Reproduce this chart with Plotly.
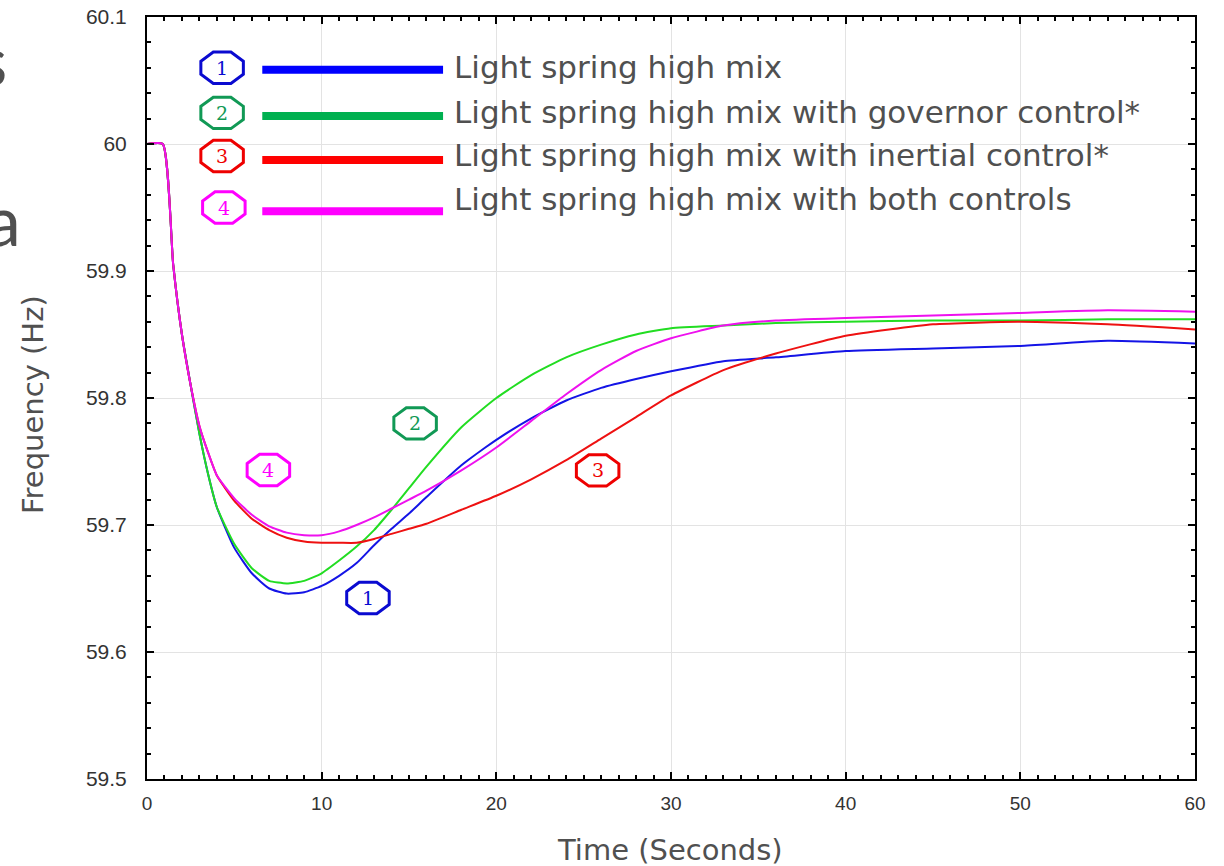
import plotly.graph_objects as go
import numpy as np

# ---------------- data ----------------
time_s = [0, 0.9, 1.5, 2, 2.5, 3, 3.5, 4, 5, 6, 7, 8, 9, 10, 11, 12, 13, 14, 15, 16,
          18, 20, 22, 24, 26, 28, 30, 33, 36, 40, 45, 50, 55, 60]

freq_base = [60.0, 60.0, 59.905, 59.85, 59.81, 59.772, 59.740, 59.714, 59.682, 59.662, 59.650,
             59.646, 59.647, 59.652, 59.660, 59.670, 59.684, 59.697, 59.709, 59.722,
             59.747, 59.767, 59.784, 59.798, 59.808, 59.815, 59.821, 59.829, 59.832,
             59.837, 59.839, 59.841, 59.845, 59.843]

freq_governor = [60.0, 60.0, 59.905, 59.85, 59.81, 59.772, 59.740, 59.714, 59.685, 59.666, 59.656,
                 59.654, 59.656, 59.662, 59.672, 59.683, 59.696, 59.712, 59.729, 59.746,
                 59.777, 59.800, 59.818, 59.832, 59.842, 59.850, 59.855, 59.857, 59.859,
                 59.860, 59.861, 59.861, 59.862, 59.862]

freq_inertial = [60.0, 60.0, 59.905, 59.85, 59.81, 59.778, 59.757, 59.739, 59.719, 59.705, 59.696,
                 59.690, 59.687, 59.686, 59.686, 59.686, 59.689, 59.693, 59.697, 59.701,
                 59.712, 59.723, 59.736, 59.751, 59.768, 59.785, 59.802, 59.822, 59.835,
                 59.849, 59.858, 59.860, 59.858, 59.854]

freq_both = [60.0, 60.0, 59.905, 59.85, 59.81, 59.778, 59.757, 59.739, 59.721, 59.708, 59.699,
             59.694, 59.692, 59.692, 59.695, 59.700, 59.706, 59.713, 59.720, 59.727,
             59.743, 59.761, 59.782, 59.803, 59.822, 59.837, 59.847, 59.857, 59.861,
             59.863, 59.865, 59.867, 59.869, 59.868]

series_names = ["Light spring high mix",
                "Light spring high mix with governor control*",
                "Light spring high mix with inertial control*",
                "Light spring high mix with both controls"]
series_numbers = ["1", "2", "3", "4"]
curve_colors = ["#1414e6", "#22dd22", "#ee1111", "#ee11ee"]
legend_colors = ["#0000ff", "#00b050", "#ff0000", "#ff00ff"]
badge_colors = ["#0a0ad0", "#119955", "#ee0000", "#ff00ff"]

x_ticks = [0, 10, 20, 30, 40, 50, 60]
y_ticks = [59.5, 59.6, 59.7, 59.8, 59.9, 60.0, 60.1]
y_tick_text = ["59.5", "59.6", "59.7", "59.8", "59.9", "60", "60.1"]

# badge (octagon label) positions in data units
legend_badge_x = [4.3, 4.3, 4.3, 4.4]
legend_badge_y = [60.060, 60.0245, 59.9905, 59.950]
legend_line_x0, legend_line_x1 = 6.6, 16.95
legend_line_y = [60.0585, 60.022, 59.9875, 59.947]
legend_text_x = 17.45
legend_text_y = [60.0605, 60.0255, 59.991, 59.9565]

plot_badge_x = [12.65, 15.35, 25.8, 6.95]
plot_badge_y = [59.6425, 59.780, 59.743, 59.7433]

FONT_TXT = "DejaVu Sans"
TXT_COLOR = "#505050"

# ---------------- figure ----------------
fig = go.Figure()
all_series = [freq_base, freq_governor, freq_inertial, freq_both]
for vals, name, col in zip(all_series, series_names, curve_colors):
    fig.add_trace(go.Scatter(x=time_s, y=vals, mode="lines", name=name,
                             line=dict(color=col, width=2, shape="spline", smoothing=0.5),
                             showlegend=False))

# legend lines
for yv, col in zip(legend_line_y, legend_colors):
    fig.add_trace(go.Scatter(x=[legend_line_x0, legend_line_x1], y=[yv, yv], mode="lines",
                             line=dict(color=col, width=8), showlegend=False, hoverinfo="skip"))

px_per_s = 1048 / 60.0
px_per_hz = 762 / 0.6


def octagon_path(cx, cy, w_px=46, h_px=34):
    rx = (w_px / 2) / px_per_s
    ry = (h_px / 2) / px_per_hz
    angs = np.linspace(0, 2 * np.pi, 9)[:-1] + np.pi / 8
    pts = [(cx + rx * np.cos(a), cy + ry * np.sin(a)) for a in angs]
    return "M " + " L ".join(f"{x:.4f},{y:.5f}" for x, y in pts) + " Z"


shapes = []
annotations = []
for bx, by, num, col in list(zip(legend_badge_x, legend_badge_y, series_numbers, badge_colors)) + \
        list(zip(plot_badge_x, plot_badge_y, series_numbers, badge_colors)):
    shapes.append(dict(type="path", xref="x", yref="y", path=octagon_path(bx, by),
                       line=dict(color=col, width=3), fillcolor="rgba(255,255,255,0)"))
    annotations.append(dict(x=bx, y=by, xref="x", yref="y", text=num, showarrow=False,
                            font=dict(family="DejaVu Serif", size=19, color=col)))

for ty, name in zip(legend_text_y, series_names):
    annotations.append(dict(x=legend_text_x, y=ty, xref="x", yref="y", text=name,
                            showarrow=False, xanchor="left", yanchor="middle",
                            font=dict(family=FONT_TXT, size=31, color=TXT_COLOR)))

# axis titles
annotations.append(dict(x=(33 - 147) / 1048, y=(779 - 405) / 762, xref="paper", yref="paper",
                        text="Frequency (Hz)", textangle=-90, showarrow=False,
                        xanchor="center", yanchor="middle",
                        font=dict(family=FONT_TXT, size=29, color=TXT_COLOR)))
annotations.append(dict(x=(670 - 147) / 1048, y=(779 - 850) / 762, xref="paper", yref="paper",
                        text="Time (Seconds)", showarrow=False,
                        xanchor="center", yanchor="middle",
                        font=dict(family=FONT_TXT, size=29, color=TXT_COLOR)))

# slide fragments at left edge
annotations.append(dict(x=-155 / 1048, y=0.945, xref="paper", yref="paper", text="s",
                        showarrow=False, xanchor="center", yanchor="middle",
                        font=dict(family="Lato", size=70, color=TXT_COLOR)))
annotations.append(dict(x=-144 / 1048, y=0.735, xref="paper", yref="paper", text="a",
                        showarrow=False, xanchor="center", yanchor="middle",
                        font=dict(family="Lato", size=70, color=TXT_COLOR)))

axis_common = dict(showline=True, linecolor="black", linewidth=2, mirror="allticks",
                   ticks="inside", ticklen=7, tickwidth=1.5, tickcolor="black",
                   showgrid=True, gridcolor="#e3e3e3", gridwidth=1, zeroline=False,
                   automargin=False)

fig.update_layout(
    width=1224, height=866,
    margin=dict(l=147, r=29, t=17, b=87, autoexpand=False),
    paper_bgcolor="white", plot_bgcolor="white",
    shapes=shapes, annotations=annotations,
    xaxis=dict(range=[0, 60], tickvals=x_ticks,
               minor=dict(dtick=1, ticklen=4, tickcolor="black", ticks="inside", showgrid=False),
               tickfont=dict(family="Liberation Sans", size=19, color="#333333"),
               ticklabelstandoff=6,
               **axis_common),
    yaxis=dict(range=[59.5, 60.1], tickvals=y_ticks, ticktext=y_tick_text,
               minor=dict(dtick=0.02, ticklen=4, tickcolor="black", ticks="inside", showgrid=False),
               tickfont=dict(family="Liberation Sans", size=21, color="#333333"),
               ticklabelstandoff=14,
               **axis_common),
)

fig.write_html("out.html")
